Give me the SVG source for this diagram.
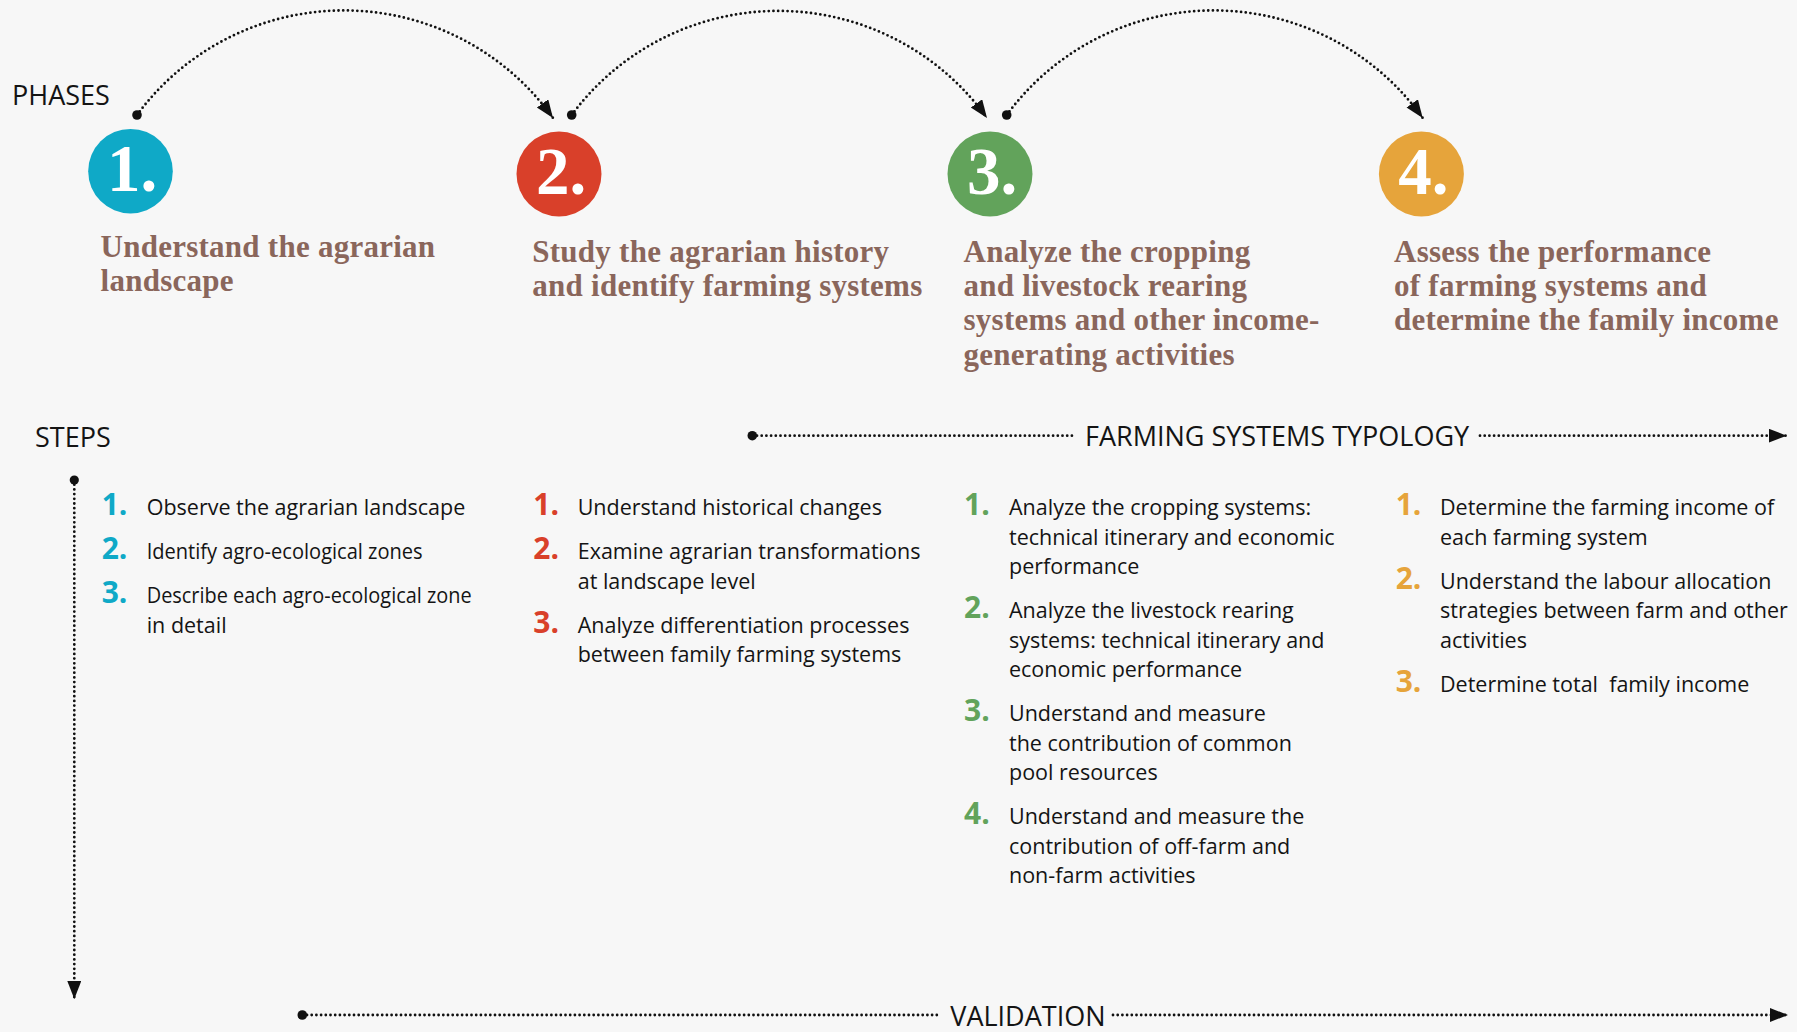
<svg xmlns="http://www.w3.org/2000/svg" width="1797" height="1032" viewBox="0 0 1797 1032">
<defs>
<style>
.lbl{font-family:"Open Sans","Noto Sans",sans-serif;font-size:27px;fill:#141414}
.title{font-family:"Liberation Serif","Times New Roman",serif;font-weight:bold;font-size:31px;letter-spacing:0.25px;fill:#8a665b}
.big{font-family:"Liberation Serif","Times New Roman",serif;font-weight:bold;font-size:67px;fill:#ffffff;text-anchor:middle}
.num{font-family:"Open Sans","Noto Sans",sans-serif;font-weight:bold;font-size:30px}
.step{font-family:"Open Sans","Noto Sans",sans-serif;font-size:21.5px;fill:#141414;white-space:pre}
.c1{fill:#0fa9c7}.c2{fill:#d9402a}.c3{fill:#62a35b}.c4{fill:#e6a43b}
.dot{fill:none;stroke:#111;stroke-width:2.8;stroke-linecap:round;stroke-dasharray:0 4.7}
.end{fill:#111}
</style>
<marker id="arr" markerUnits="userSpaceOnUse" markerWidth="21" markerHeight="16" refX="18" refY="7" orient="auto">
<path d="M0,0 L18,7 L0,14 Z" fill="#111"/>
</marker>
</defs>
<rect x="0" y="0" width="1797" height="1032" fill="#f7f7f7"/>

<g id="axis-labels">
<text class="lbl" x="12" y="105">PHASES</text>
<text class="lbl" x="35" y="446.5">STEPS</text>
</g>

<g id="phase-1">
<circle cx="130.5" cy="171.2" r="42.3" class="c1"/>
<text class="big" x="132" y="191">1.</text>
<text class="title" x="100.6"><tspan x="100.6" y="256.7">Understand the agrarian</tspan><tspan x="100.6" y="290.7">landscape</tspan></text>
</g>
<g id="phase-2">
<circle cx="559" cy="174" r="42.5" class="c2"/>
<text class="big" x="561" y="194">2.</text>
<text class="title"><tspan x="532.3" y="261.7">Study the agrarian history</tspan><tspan x="532.3" y="296">and identify farming systems</tspan></text>
</g>
<g id="phase-3">
<circle cx="990" cy="174" r="42.5" class="c3"/>
<text class="big" x="992" y="194">3.</text>
<text class="title"><tspan x="963.5" y="261.7">Analyze the cropping</tspan><tspan x="963.5" y="296">and livestock rearing</tspan><tspan x="963.5" y="330.3">systems and other income-</tspan><tspan x="963.5" y="364.5">generating activities</tspan></text>
</g>
<g id="phase-4">
<circle cx="1421.4" cy="174" r="42.5" class="c4"/>
<text class="big" x="1423.4" y="194">4.</text>
<text class="title"><tspan x="1394" y="261.7">Assess the performance</tspan><tspan x="1394" y="296">of farming systems and</tspan><tspan x="1394" y="330.3">determine the family income</tspan></text>
</g>

<g id="steps-1">
<text class="num c1" x="101.7" y="515">1.</text>
<text class="num c1" x="101.7" y="559">2.</text>
<text class="num c1" x="101.7" y="603">3.</text>
<text class="step" x="146.7" y="515">Observe the agrarian landscape</text>
<text class="step" x="146.7" y="559" textLength="276" lengthAdjust="spacingAndGlyphs">Identify agro-ecological zones</text>
<text class="step" x="146.7" y="603" textLength="325" lengthAdjust="spacingAndGlyphs">Describe each agro-ecological zone</text>
<text class="step" x="146.7" y="632.5">in detail</text>
</g>
<g id="steps-2">
<text class="num c2" x="533.3" y="515">1.</text>
<text class="num c2" x="533.3" y="559">2.</text>
<text class="num c2" x="533.3" y="632.5">3.</text>
<text class="step"><tspan x="577.7" y="515">Understand historical changes</tspan><tspan x="577.7" y="559">Examine agrarian transformations</tspan><tspan x="577.7" y="588.5">at landscape level</tspan><tspan x="577.7" y="632.5">Analyze differentiation processes</tspan><tspan x="577.7" y="662">between family farming systems</tspan></text>
</g>
<g id="steps-3">
<text class="num c3" x="964" y="515">1.</text>
<text class="num c3" x="964" y="618">2.</text>
<text class="num c3" x="964" y="721">3.</text>
<text class="num c3" x="964" y="824">4.</text>
<text class="step"><tspan x="1009" y="515">Analyze the cropping systems:</tspan><tspan x="1009" y="544.5">technical itinerary and economic</tspan><tspan x="1009" y="574">performance</tspan><tspan x="1009" y="618">Analyze the livestock rearing</tspan><tspan x="1009" y="647.5">systems: technical itinerary and</tspan><tspan x="1009" y="677">economic performance</tspan><tspan x="1009" y="721">Understand and measure</tspan><tspan x="1009" y="750.5">the contribution of common</tspan><tspan x="1009" y="780">pool resources</tspan><tspan x="1009" y="824">Understand and measure the</tspan><tspan x="1009" y="853.5">contribution of off-farm and</tspan><tspan x="1009" y="883">non-farm activities</tspan></text>
</g>
<g id="steps-4">
<text class="num c4" x="1395.7" y="515">1.</text>
<text class="num c4" x="1395.7" y="588.5">2.</text>
<text class="num c4" x="1395.7" y="691.5">3.</text>
<text class="step"><tspan x="1440" y="515">Determine the farming income of</tspan><tspan x="1440" y="544.5">each farming system</tspan><tspan x="1440" y="588.5">Understand the labour allocation</tspan><tspan x="1440" y="618">strategies between farm and other</tspan><tspan x="1440" y="647.5">activities</tspan><tspan x="1440" y="691.5">Determine total  family income</tspan></text>
</g>

<g id="connectors">
<path class="dot" d="M137,115 A257,257 0 0 1 553,118" marker-end="url(#arr)"/>
<circle class="end" cx="137" cy="115" r="4.8"/>
<path class="dot" d="M571.7,115 A257,257 0 0 1 987,118" marker-end="url(#arr)"/>
<circle class="end" cx="571.7" cy="115" r="4.8"/>
<path class="dot" d="M1006.7,115 A257,257 0 0 1 1422.7,118" marker-end="url(#arr)"/>
<circle class="end" cx="1006.7" cy="115" r="4.8"/>

<path class="dot" d="M74.3,480 L74.3,999" marker-end="url(#arr)"/>
<circle class="end" cx="74.3" cy="480" r="4.6"/>

<path class="dot" d="M752.3,435.7 L1072.3,435.7"/>
<circle class="end" cx="752.3" cy="435.7" r="4.8"/>
<text class="lbl" x="1085" y="445.7">FARMING SYSTEMS TYPOLOGY</text>
<path class="dot" d="M1480,435.7 L1786.7,435.7" marker-end="url(#arr)"/>

<path class="dot" d="M302.3,1015 L940,1015"/>
<circle class="end" cx="302.3" cy="1015" r="4.8"/>
<text class="lbl" x="950.3" y="1025.7">VALIDATION</text>
<path class="dot" d="M1113,1015 L1788,1015" marker-end="url(#arr)"/>
</g>
</svg>
